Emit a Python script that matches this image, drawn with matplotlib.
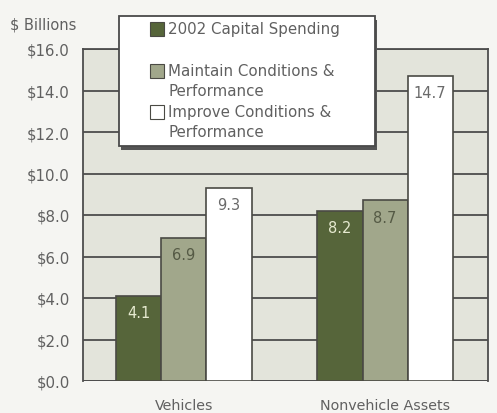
import matplotlib
matplotlib.use("Agg")
import matplotlib.pyplot as plt
from matplotlib.patches import Rectangle
import numpy as np

categories = ["Vehicles", "Nonvehicle Assets"]
series_names = ["2002 Capital Spending", "Maintain Conditions &\nPerformance",
                "Improve Conditions &\nPerformance"]
spending_2002 = [4.1, 8.2]
maintain = [6.9, 8.7]
improve = [9.3, 14.7]
y_ticks = [0, 2, 4, 6, 8, 10, 12, 14, 16]
y_tick_labels = ["$0.0", "$2.0", "$4.0", "$6.0", "$8.0", "$10.0", "$12.0", "$14.0", "$16.0"]

colors = ["#56653a", "#a1a78b", "#ffffff"]
label_colors = ["#e6ead0", "#555a45", "#6a6a6a"]
plt.rcParams['font.family'] = ['DejaVu Sans']
TXT = "#606060"

fig = plt.figure(figsize=(4.97, 4.14), dpi=100)
fig.patch.set_facecolor("#f5f5f2")
ax = fig.add_axes([83/497, 1-382/414, 405/497, 332/414])
ax.set_facecolor("#e3e4db")

x = np.arange(len(categories))
w = 0.224
series = [spending_2002, maintain, improve]
for i, vals in enumerate(series):
    bars = ax.bar(x + (i - 1) * w, vals, width=w, color=colors[i],
                  edgecolor="#4a4a44", linewidth=1.2, zorder=3)
    for b, v in zip(bars, vals):
        ax.annotate(f"{v:.1f}", (b.get_x() + b.get_width()/2, v),
                    xytext=(0, -12), textcoords="offset points",
                    ha="center", va="center", fontsize=10.5,
                    color=label_colors[i], zorder=4)

ax.set_xlim(-0.502, 1.512)
ax.set_ylim(0, 16)
ax.set_yticks(y_ticks)
ax.set_yticklabels(y_tick_labels, fontsize=10.8, color=TXT)
ax.yaxis.grid(True, color="#4d4d4d", linewidth=1.3, zorder=1)
ax.set_axisbelow(True)
ax.tick_params(axis="y", length=0, pad=9.5)
ax.set_xticks(x)
ax.set_xticklabels(categories, fontsize=10.3, color=TXT)
ax.tick_params(axis="x", length=0, pad=12)
for s in ax.spines.values():
    s.set_color("#4d4d4d")
    s.set_linewidth(1.3)
ax.spines["bottom"].set_visible(False)
ax.axhline(0, color="#4d4d4d", linewidth=1.3, zorder=2)

fig.text(10/497, 1-25/414, "$ Billions", fontsize=10.5, color=TXT,
         ha="left", va="center")

# legend box (figure coordinates)
lx0, lx1, ly0, ly1 = 119/497, 375/497, 1-147/414, 1-17/414
fig.patches.append(Rectangle((lx0 + 2/497, ly0 - 4/414), lx1 - lx0, ly1 - ly0,
                             transform=fig.transFigure, facecolor="#555555",
                             edgecolor="none", zorder=5))
fig.patches.append(Rectangle((lx0, ly0), lx1 - lx0, ly1 - ly0,
                             transform=fig.transFigure, facecolor="white",
                             edgecolor="#4a4a4a", linewidth=1.3, zorder=6))
entry_y = [30, 72, 113]
for i, (name, yy) in enumerate(zip(series_names, entry_y)):
    fig.patches.append(Rectangle((150/497, 1-(yy+7)/414), 14/497, 14/414,
                                 transform=fig.transFigure, facecolor=colors[i],
                                 edgecolor="#4a4a44", linewidth=0.8, zorder=7))
    fig.text(168/497, 1-(yy-8)/414, name, fontsize=10.8, color=TXT,
             ha="left", va="top", linespacing=1.38, zorder=8)

fig.savefig("out.png", dpi=100, facecolor=fig.get_facecolor())
